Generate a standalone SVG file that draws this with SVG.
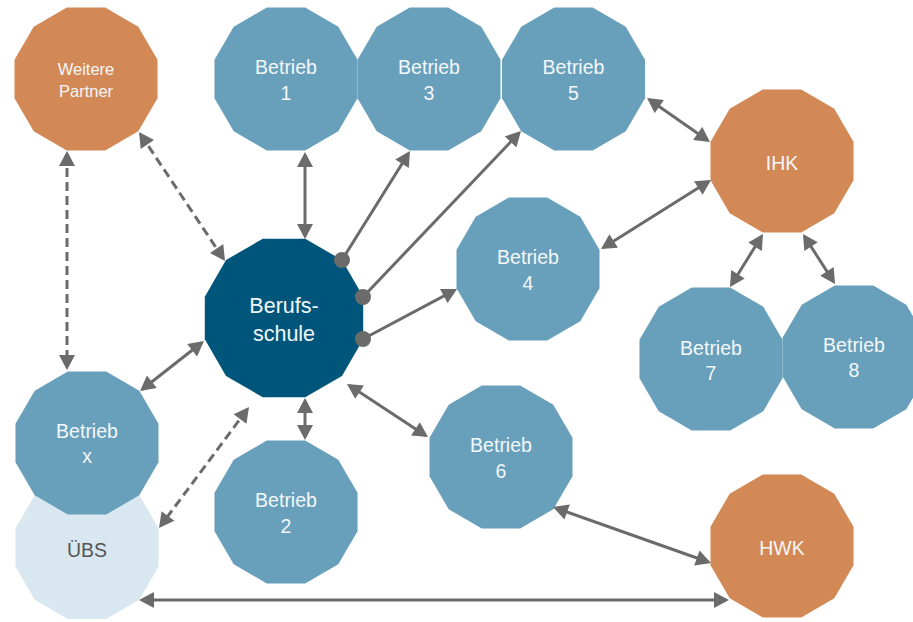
<svg xmlns="http://www.w3.org/2000/svg" xmlns:xlink="http://www.w3.org/1999/xlink" width="913" height="622" viewBox="0 0 913 622">
<style>
.b{fill:#68a0bc}
.d{fill:#00557a}
.o{fill:#d38955}
.l{fill:#d9e8f0}
text{font-family:"Liberation Sans",Arial,sans-serif;text-anchor:middle;fill:#f3f7f9;font-size:19.5px}
text.dk{fill:#555555}
text.sm{font-size:16.5px}
text.lg{font-size:21.5px}
.c{stroke:#6b6b6b;stroke-width:3;fill:none;marker-end:url(#ah)}
.c2{marker-start:url(#ah)}
.dash{stroke-dasharray:9 5}
.dot{fill:#6b6b6b}
</style>
<defs>
<polygon id="dod" points="71.5,19.2 52.3,52.3 19.2,71.5 -19.2,71.5 -52.3,52.3 -71.5,19.2 -71.5,-19.2 -52.3,-52.3 -19.2,-71.5 19.2,-71.5 52.3,-52.3 71.5,-19.2"/>
<polygon id="dodL" points="79.2,21.2 58,58 21.2,79.2 -21.2,79.2 -58,58 -79.2,21.2 -79.2,-21.2 -58,-58 -21.2,-79.2 21.2,-79.2 58,-58 79.2,-21.2"/>
<marker id="ah" markerUnits="userSpaceOnUse" markerWidth="16" markerHeight="16" viewBox="0 0 15 16" refX="12" refY="8" orient="auto-start-reverse">
<path d="M0,0 L15,8 L0,16 z" fill="#6b6b6b"/>
</marker>
</defs>
<g id="partner" transform="translate(86,79)"><use xlink:href="#dod" class="o"/><text class="sm" y="-4">Weitere</text><text class="sm" y="18">Partner</text></g>
<g id="betrieb1" transform="translate(286,79)"><use xlink:href="#dod" class="b"/><text y="-5">Betrieb</text><text y="21">1</text></g>
<g id="betrieb3" transform="translate(429,79)"><use xlink:href="#dod" class="b"/><text y="-5">Betrieb</text><text y="21">3</text></g>
<g id="betrieb5" transform="translate(573.5,79)"><use xlink:href="#dod" class="b"/><text y="-5">Betrieb</text><text y="21">5</text></g>
<g id="ihk" transform="translate(782,161)"><use xlink:href="#dod" class="o"/><text y="9">IHK</text></g>
<g id="betrieb4" transform="translate(528,269)"><use xlink:href="#dod" class="b"/><text y="-5">Betrieb</text><text y="21">4</text></g>
<g id="betrieb7" transform="translate(711,359)"><use xlink:href="#dod" class="b"/><text y="-4">Betrieb</text><text y="21">7</text></g>
<g id="betrieb8" transform="translate(854,357)"><use xlink:href="#dod" class="b"/><text y="-5">Betrieb</text><text y="20">8</text></g>
<g id="berufsschule" transform="translate(284,318)"><use xlink:href="#dodL" class="d"/><text class="lg" y="-5">Berufs-</text><text class="lg" y="23">schule</text></g>
<g id="uebs" transform="translate(87,547.5)"><use xlink:href="#dod" class="l"/><text class="dk" y="9">ÜBS</text></g>
<g id="betriebx" transform="translate(87,443)"><use xlink:href="#dod" class="b"/><text y="-5">Betrieb</text><text y="20">x</text></g>
<g id="betrieb2" transform="translate(286,512)"><use xlink:href="#dod" class="b"/><text y="-5">Betrieb</text><text y="21">2</text></g>
<g id="betrieb6" transform="translate(501,457)"><use xlink:href="#dod" class="b"/><text y="-5">Betrieb</text><text y="21">6</text></g>
<g id="hwk" transform="translate(782,546)"><use xlink:href="#dod" class="o"/><text y="9">HWK</text></g>
<g id="connectors">
<line class="c c2" x1="305" y1="155" x2="305" y2="236"/>
<line class="c" x1="342" y1="260" x2="408.4" y2="153.5"/>
<line class="c" x1="363" y1="297" x2="518.9" y2="133.2"/>
<line class="c" x1="363" y1="339" x2="454.4" y2="290.4"/>
<line class="c c2" x1="603.5" y1="247.4" x2="708.5" y2="181.6"/>
<line class="c c2" x1="649.5" y1="99.7" x2="707.5" y2="140.3"/>
<line class="c c2" x1="761.4" y1="236.5" x2="731.6" y2="284.5"/>
<line class="c c2" x1="804.6" y1="236.5" x2="833.4" y2="281.5"/>
<line class="c c2" x1="201.6" y1="342.8" x2="142.4" y2="389.2"/>
<line class="c c2" x1="305" y1="401" x2="305" y2="437"/>
<line class="c c2" x1="349.5" y1="385.6" x2="425.5" y2="435.4"/>
<line class="c c2 dash" x1="247.2" y1="409.4" x2="160.8" y2="525.6"/>
<line class="c c2" x1="555.8" y1="508" x2="708.2" y2="562"/>
<line class="c c2" x1="142" y1="600" x2="726" y2="600"/>
<line class="c c2 dash" x1="67" y1="154" x2="67" y2="367"/>
<line class="c c2 dash" x1="140.7" y1="134.5" x2="223.3" y2="258.5"/>
<circle class="dot" cx="342" cy="260" r="8"/>
<circle class="dot" cx="363" cy="297" r="8"/>
<circle class="dot" cx="363" cy="339" r="8"/>
</g>
</svg>
